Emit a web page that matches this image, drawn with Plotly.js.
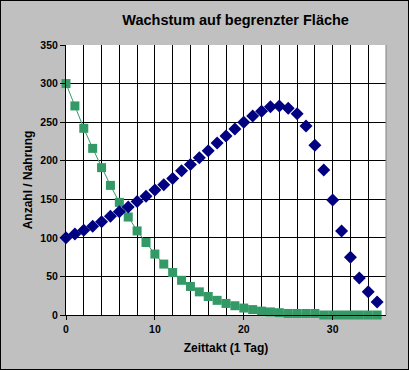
<!DOCTYPE html>
<html>
<head>
<meta charset="utf-8">
<script src="https://cdn.plot.ly/plotly-3.0.1.min.js"></script>
<style>
html,body{margin:0;padding:0;background:#c0c0c0;}
#wrap{position:relative;width:409px;height:370px;}
#chart{width:409px;height:370px;}
#frame{position:absolute;left:0;top:0;width:409px;height:370px;box-sizing:border-box;border:1px solid #000;pointer-events:none;}
</style>
</head>
<body>
<div id="wrap"><div id="chart"></div><div id="frame"></div></div>
<script>
const zeittakt = [0,1,2,3,4,5,6,7,8,9,10,11,12,13,14,15,16,17,18,19,20,21,22,23,24,25,26,27,28,29,30,31,32,33,34,35];
const anzahl = [100,105,110,115,121,128,134,140,147,154,162,169,177,187,195,204,213,223,232,241,250,258,264,270,271,268,261,245,220,188,149,109,75,48,30,17];
const nahrung = [300,271,242,216,191,168,146,127,109,94,79,66,55,45,37,30,24,19,15,12,9,7,5,4,3,2,2,2,2,0,0,0,0,0,0,0];

const fontFam = 'Arial, "Liberation Sans", sans-serif';

const traces = [
  {
    x: zeittakt, y: nahrung, type: 'scatter', mode: 'lines+markers', name: 'Nahrung',
    line: {color: '#339966', width: 1},
    marker: {symbol: 'square', size: 9, color: '#339966'},
    cliponaxis: false
  },
  {
    x: zeittakt, y: anzahl, type: 'scatter', mode: 'markers', name: 'Anzahl',
    marker: {symbol: 'diamond', size: 10, color: '#000080'},
    cliponaxis: false
  }
];

const layout = {
  width: 409, height: 370,
  paper_bgcolor: '#c0c0c0',
  plot_bgcolor: '#ffffff',
  showlegend: false,
  margin: {l: 66, r: 23, t: 45, b: 55},
  font: {family: fontFam, color: '#000', size: 10},
  title: {
    text: '<b>Wachstum auf begrenzter Fläche</b>',
    font: {family: fontFam, size: 14.5, color: '#000'},
    x: 0.53, xanchor: 'center', xref: 'paper',
    y: 0.946, yanchor: 'middle', yref: 'container'
  },
  xaxis: {
    range: [0, 36], dtick: 10, tick0: 0,
    ticks: 'outside', ticklen: 4, tickcolor: '#000', tickwidth: 1,
    showline: true, linecolor: '#000', linewidth: 1,
    showgrid: true, gridcolor: '#000', gridwidth: 1,
    zeroline: false,
    minor: {dtick: 2, showgrid: true, gridcolor: '#000', gridwidth: 1},
    tickfont: {family: fontFam, size: 10.5, color: '#000', weight: 'bold'},
    title: {text: '<b>Zeittakt (1 Tag)</b>', font: {family: fontFam, size: 12, color: '#000'}, standoff: 10},
    fixedrange: true
  },
  yaxis: {
    range: [0, 350], dtick: 50, tick0: 0,
    ticks: 'outside', ticklen: 5, tickcolor: '#000', tickwidth: 1,
    showline: true, linecolor: '#000', linewidth: 1,
    showgrid: true, gridcolor: '#000', gridwidth: 1,
    zeroline: false,
    tickfont: {family: fontFam, size: 10.5, color: '#000', weight: 'bold'},
    title: {text: '<b>Anzahl / Nahrung</b>', font: {family: fontFam, size: 12, color: '#000'}, standoff: 5},
    fixedrange: true
  },
  shapes: [
    {type: 'line', xref: 'paper', yref: 'paper', x0: 1, x1: 1, y0: 0, y1: 1, line: {color: '#808080', width: 1}}
  ]
};

Plotly.newPlot('chart', traces, layout, {displayModeBar: false, staticPlot: true});
</script>
</body>
</html>
